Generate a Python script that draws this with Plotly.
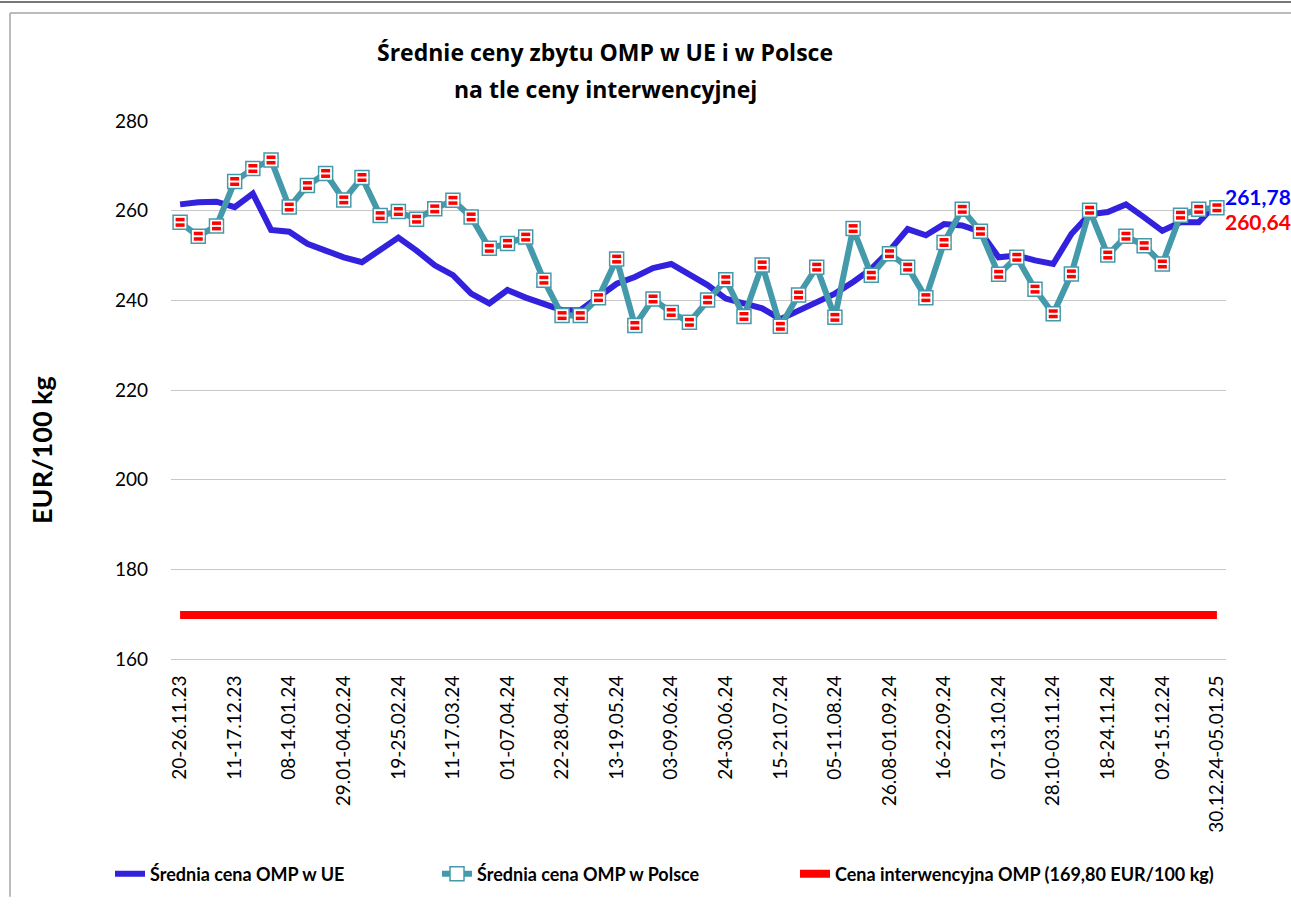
import plotly.graph_objects as go

weeks = [
    "20-26.11.23", "27.11-03.12.23", "04-10.12.23", "11-17.12.23", "18-24.12.23",
    "01-07.01.24", "08-14.01.24", "15-21.01.24", "22-28.01.24", "29.01-04.02.24",
    "05-11.02.24", "12-18.02.24", "19-25.02.24", "26.02-03.03.24", "04-10.03.24",
    "11-17.03.24", "18-24.03.24", "25-31.03.24", "01-07.04.24", "08-14.04.24",
    "15-21.04.24", "22-28.04.24", "29.04-05.05.24", "06-12.05.24", "13-19.05.24",
    "20-26.05.24", "27.05-02.06.24", "03-09.06.24", "10-16.06.24", "17-23.06.24",
    "24-30.06.24", "01-07.07.24", "08-14.07.24", "15-21.07.24", "22-28.07.24",
    "29.07-04.08.24", "05-11.08.24", "12-18.08.24", "19-25.08.24", "26.08-01.09.24",
    "02-08.09.24", "09-15.09.24", "16-22.09.24", "23-29.09.24", "30.09-06.10.24",
    "07-13.10.24", "14-20.10.24", "21-27.10.24", "28.10-03.11.24", "04-10.11.24",
    "11-17.11.24", "18-24.11.24", "25.11-01.12.24", "02-08.12.24", "09-15.12.24",
    "16-22.12.24", "23-29.12.24", "30.12.24-05.01.25",
]

eu_price = [
    261.4, 261.9, 262.0, 260.8, 263.8, 255.7, 255.3, 252.6, 251.1, 249.6,
    248.5, 251.1, 254.0, 251.1, 247.8, 245.6, 241.5, 239.3, 242.3, 240.6,
    239.1, 237.8, 237.8, 240.8, 243.7, 245.2, 247.2, 248.1, 245.8, 243.4,
    240.4, 239.3, 238.2, 235.8, 237.8, 239.7, 241.5, 244.1, 247.0, 251.1,
    255.9, 254.5, 257.0, 256.7, 255.3, 249.6, 250.0, 248.9, 248.1, 254.8,
    259.2, 259.7, 261.4, 258.5, 255.5, 257.4, 257.4, 261.78,
]

pl_price = [
    257.4, 254.3, 256.6, 266.5, 269.4, 271.3, 260.8, 265.6, 268.3, 262.4,
    267.4, 258.9, 259.8, 258.1, 260.4, 262.3, 258.6, 251.6, 252.7, 254.1,
    244.5, 236.6, 236.6, 240.6, 249.2, 234.4, 240.3, 237.3, 235.1, 240.1,
    244.6, 236.4, 247.9, 234.2, 241.2, 247.4, 236.2, 256.0, 245.6, 250.4,
    247.4, 240.6, 252.9, 260.3, 255.4, 245.8, 249.6, 242.5, 237.0, 245.9,
    260.1, 250.1, 254.3, 252.2, 248.1, 259.0, 260.3, 260.64,
]

intervention_price = 169.80

series_names = [
    "Średnia cena OMP w UE",
    "Średnia cena OMP w Polsce",
    "Cena interwencyjna OMP (169,80 EUR/100 kg)",
]
title_lines = ["Średnie ceny zbytu OMP w UE i w Polsce", "na tle ceny interwencyjnej"]
y_title = "EUR/100 kg"
tick_step = 3

W, H = 1291, 904
L, R, T, B = 171, 65, 121, 240
PW, PH = W - L - R, H - T - B


def px(x):
    return (x - L) / PW


def py(y):
    return (H - B - y) / PH


FONT = "Lato, 'Open Sans', sans-serif"
TITLE_FONT = "'Open Sans', Lato, sans-serif"

fig = go.Figure()

fig.add_trace(go.Scatter(
    x=weeks, y=[intervention_price] * len(weeks), mode="lines",
    name=series_names[2], line=dict(color="#FF0000", width=8),
    legend="legend3",
))
fig.add_trace(go.Scatter(
    x=weeks, y=eu_price, mode="lines", name=series_names[0],
    line=dict(color="#3322DD", width=6), legend="legend",
))
fig.add_trace(go.Scatter(
    x=weeks, y=pl_price, mode="lines+markers", name=series_names[1],
    line=dict(color="#4499AA", width=6),
    marker=dict(symbol="square", size=14, color="white",
                line=dict(color="#4499AA", width=1.5)),
    legend="legend2",
))
fig.add_trace(go.Scatter(
    x=weeks, y=pl_price, mode="markers", showlegend=False, hoverinfo="skip",
    marker=dict(symbol="square", size=9, color="#FF0000", line=dict(width=0)),
))
fig.add_trace(go.Scatter(
    x=weeks, y=pl_price, mode="markers", showlegend=False, hoverinfo="skip",
    marker=dict(symbol="line-ew", size=9, line=dict(color="white", width=2)),
))

shapes = [
    dict(type="line", xref="paper", yref="paper", x0=px(0), x1=px(W), y0=py(1), y1=py(1),
         line=dict(color="#777777", width=2)),
    dict(type="line", xref="paper", yref="paper", x0=px(10), x1=px(W), y0=py(12), y1=py(12),
         line=dict(color="#BBBBBB", width=2)),
    dict(type="line", xref="paper", yref="paper", x0=px(10), x1=px(10), y0=py(12), y1=py(H),
         line=dict(color="#BBBBBB", width=2)),
]

annotations = [
    dict(text=f"<b>{title_lines[0]}</b>", xref="paper", yref="paper", x=px(605), y=py(51),
         showarrow=False, font=dict(family=TITLE_FONT, size=23, color="#000000"),
         xanchor="center", yanchor="middle"),
    dict(text=f"<b>{title_lines[1]}</b>", xref="paper", yref="paper", x=px(605), y=py(89),
         showarrow=False, font=dict(family=TITLE_FONT, size=23, color="#000000"),
         xanchor="center", yanchor="middle"),
    dict(text=f"<b>{y_title}</b>", xref="paper", yref="paper", x=px(42), y=py(453),
         textangle=-90, showarrow=False, font=dict(family=FONT, size=27, color="#000000"),
         xanchor="center", yanchor="middle"),
    dict(text=f"<b>{eu_price[-1]:.2f}</b>".replace(".", ","), x=weeks[-1], y=eu_price[-1],
         xref="x", yref="y", showarrow=False, xanchor="left", yanchor="middle",
         xshift=6, yshift=6, font=dict(family=FONT, size=21, color="#0000FF")),
    dict(text=f"<b>{pl_price[-1]:.2f}</b>".replace(".", ","), x=weeks[-1], y=pl_price[-1],
         xref="x", yref="y", showarrow=False, xanchor="left", yanchor="middle",
         xshift=6, yshift=-14, font=dict(family=FONT, size=21, color="#FF0000")),
]


def legend_at(x_pixel):
    return dict(orientation="h", x=px(x_pixel), y=py(881), xanchor="left", yanchor="middle",
                font=dict(family=FONT, size=18, color="#000000", weight="bold"),
                bgcolor="rgba(0,0,0,0)")


fig.update_layout(
    width=W, height=H,
    margin=dict(l=L, r=R, t=T, b=B),
    paper_bgcolor="white", plot_bgcolor="white",
    showlegend=True,
    legend=legend_at(110),
    legend2=legend_at(437),
    legend3=legend_at(795),
    shapes=shapes,
    annotations=annotations,
    xaxis=dict(
        type="category", categoryorder="array", categoryarray=weeks,
        range=[-0.5, len(weeks) - 0.5],
        tickmode="array", tickvals=weeks[::tick_step], ticktext=weeks[::tick_step],
        tickangle=-90, tickfont=dict(family=FONT, size=19, color="#000000"),
        showgrid=False, showline=True, linecolor="#C8C8C8", linewidth=1,
        ticks="", ticklabelstandoff=8, zeroline=False,
    ),
    yaxis=dict(
        range=[160, 280], dtick=20, tick0=160,
        showgrid=True, gridcolor="#C8C8C8", gridwidth=1,
        zeroline=False, showline=False, ticks="",
        tickfont=dict(family=FONT, size=19, color="#000000"),
        ticklabelstandoff=22,
    ),
)

fig.write_html("out.html", config={"displayModeBar": False},
               post_script="document.body.style.margin='0';")
